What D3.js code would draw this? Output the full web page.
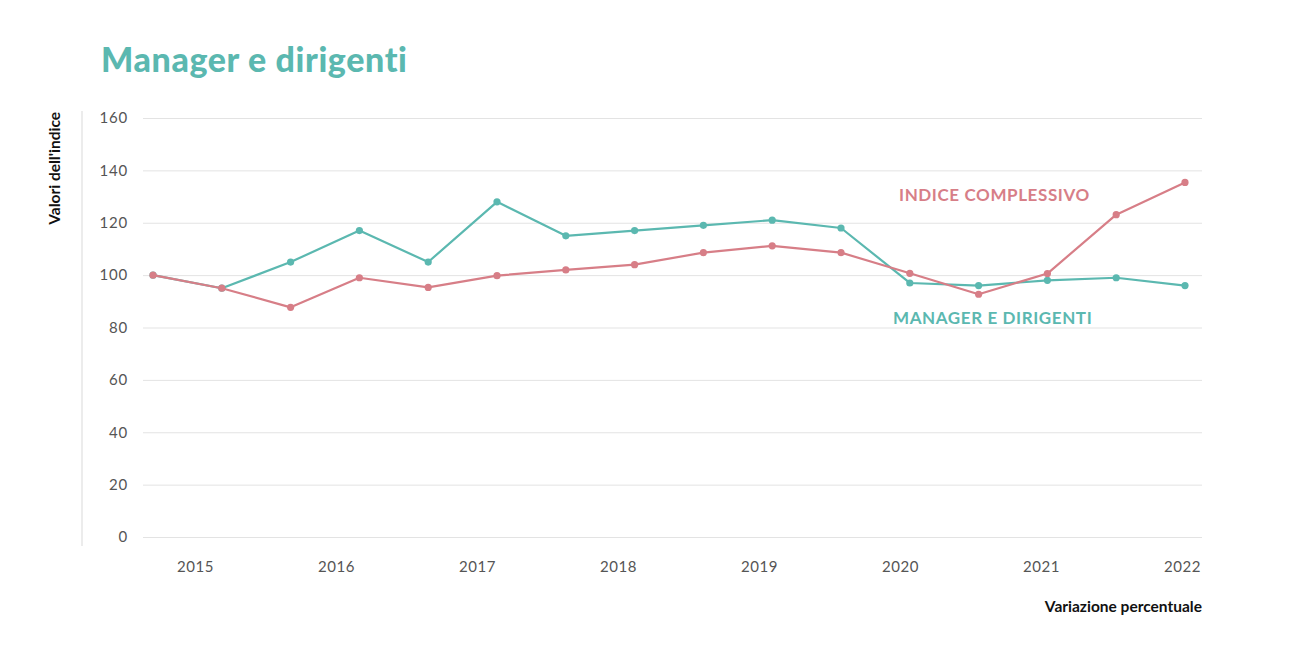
<!DOCTYPE html>
<html><head><meta charset="utf-8">
<script src="https://cdn.jsdelivr.net/npm/d3@7"></script>
<style>
body{margin:0;background:#fff;}
text{font-family:Lato, "Open Sans", sans-serif;}
</style></head>
<body><svg id="c" width="1289" height="667"></svg>
<script>
const periods = ["2015-1","2015-2","2016-1","2016-2","2017-1","2017-2","2018-1","2018-2","2019-1","2019-2","2020-1","2020-2","2021-1","2021-2","2022-1","2022-2"];
const managerValues = [100,95,105,117,105,128,115,117,119,121,118,97,96,98,99,96];
const overallValues = [100,95,87.7,99,95.3,99.8,102,104,108.6,111.2,108.6,100.7,92.7,100.6,123.1,135.4];
const yearLabels = ["2015","2016","2017","2018","2019","2020","2021","2022"];
const yTicks = [0,20,40,60,80,100,120,140,160];

const teal = "#5bb8b0", red = "#d77e87";
const svg = d3.select("#c");
const x = d3.scalePoint().domain(periods).range([153,1185]);
const xYear = d3.scalePoint().domain(yearLabels).range([195,1182]);
const y = d3.scaleLinear().domain([0,160]).range([537,118]);

svg.append("text").attr("x",101).attr("y",72).attr("fill",teal)
  .attr("font-size",34).attr("font-weight",900).attr("letter-spacing",0.6).text("Manager e dirigenti");

svg.append("line").attr("x1",82).attr("x2",82).attr("y1",111).attr("y2",546)
  .attr("stroke","#e6e6e6").attr("stroke-width",1.5);

svg.append("text").attr("transform","translate(60,112) rotate(-90)")
  .attr("text-anchor","end").attr("font-size",15.5).attr("font-weight",700).attr("fill","#111")
  .text("Valori dell'indice");

const yAxis = d3.axisLeft(y).tickValues(yTicks).tickSize(-(1202-143)).tickPadding(15);
const gy = svg.append("g").attr("transform","translate(143,0)").call(yAxis);
gy.select(".domain").remove();
gy.selectAll(".tick line").attr("stroke","#e3e3e3").attr("stroke-width",1);
gy.selectAll(".tick text").attr("font-size",15).attr("fill","#555").attr("font-family","Lato, sans-serif").attr("letter-spacing",0.8);

const xAxis = d3.axisBottom(xYear).tickSize(0).tickPadding(0);
const gx = svg.append("g").attr("transform","translate(0,561)").call(xAxis);
gx.select(".domain").remove();
gx.selectAll(".tick text").attr("font-size",15).attr("fill","#555").attr("font-family","Lato, sans-serif").attr("letter-spacing",0.6);

svg.append("text").attr("x",1202).attr("y",612).attr("text-anchor","end")
  .attr("font-size",15.5).attr("font-weight",700).attr("fill","#111").text("Variazione percentuale");

const line = d3.line().x((d,i)=>x(periods[i])).y(d=>y(d));
function series(vals,color){
  svg.append("path").datum(vals).attr("d",line).attr("fill","none")
    .attr("stroke",color).attr("stroke-width",2.2).attr("stroke-linejoin","round");
  svg.append("g").selectAll("circle").data(vals).join("circle")
    .attr("cx",(d,i)=>x(periods[i])).attr("cy",d=>y(d)).attr("r",3.6).attr("fill",color);
}
series(managerValues,teal);
series(overallValues,red);

svg.append("text").attr("x",899).attr("y",201).attr("fill",red)
  .attr("font-size",17).attr("font-weight",700).attr("letter-spacing",0.6).text("INDICE COMPLESSIVO");
svg.append("text").attr("x",893).attr("y",324).attr("fill",teal)
  .attr("font-size",17).attr("font-weight",700).attr("letter-spacing",0.6).text("MANAGER E DIRIGENTI");
</script></body></html>
